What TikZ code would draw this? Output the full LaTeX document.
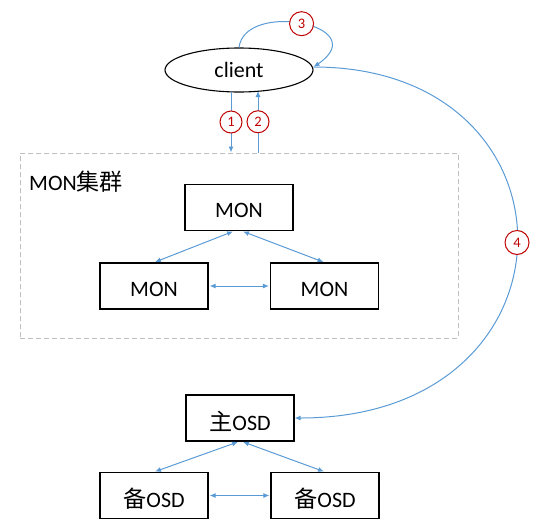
\documentclass[tikz,border=0pt]{standalone}
\usepackage{fontspec}
\setmainfont{Carlito}
\newfontfamily\cjk{Noto Sans CJK SC}[Scale=1.05]
\usetikzlibrary{arrows.meta,shapes.geometric,calc}
\definecolor{lineblue}{HTML}{5B9BD5}
\definecolor{numred}{HTML}{C00000}
\definecolor{dashgray}{HTML}{BFBFBF}
\newcommand{\lowtext}[1]{\raisebox{-3pt}[\height][\depth]{#1}}
\begin{document}
\begin{tikzpicture}[x=1pt,y=-1pt,
  txt/.style={font=\fontsize{22}{24}\selectfont},
  box/.style={draw=black, line width=1.1pt, minimum width=108pt, minimum height=46pt, inner sep=0pt, txt},
  link/.style={draw=lineblue, line width=1pt, {Latex[length=6pt,width=5pt]}-{Latex[length=6pt,width=5pt]}, shorten >=1pt, shorten <=1pt},
  oneway/.style={draw=lineblue, line width=1pt, -{Latex[length=6pt,width=5pt]}},
  num/.style={circle, draw=numred, line width=1pt, fill=white, text=numred, minimum size=22pt, inner sep=0pt, font=\fontsize{14.5}{15}\selectfont},
  bignum/.style={num, minimum size=24pt}]
\useasboundingbox (0,0) rectangle (537,530);

% client
\node[ellipse, draw=black, line width=1.1pt, minimum width=148pt, minimum height=44pt, inner sep=0pt, txt] (client) at (239,70) {client};

% MON cluster
\node[draw=dashgray, line width=1pt, dash pattern=on 5pt off 3pt, minimum width=438pt, minimum height=185pt, inner sep=0pt] (cluster) at (239,245.5) {};
\node[anchor=west, txt, inner sep=0pt] (clabel) at (29,182) {MON{\cjk 集群}};

\node[box] (mtop) at (239,207.5) {\lowtext{MON}};
\node[box] (mleft) at (154,286) {\lowtext{MON}};
\node[box] (mright) at (324.5,286) {\lowtext{MON}};

\draw[link] ($(mtop.south)+(-5,0)$) -- (mleft.north);
\draw[link] ($(mtop.south)+(3,0)$) -- (mright.north);
\draw[link] (mleft.east) -- (mright.west);

% OSDs
\node[box] (osd) at (240,418) {\lowtext{{\cjk 主}OSD}};
\node[box] (osdl) at (154,495.5) {\lowtext{{\cjk 备}OSD}};
\node[box] (osdr) at (325,495.5) {\lowtext{{\cjk 备}OSD}};

\draw[link] ($(osd.south)+(-1,0)$) -- (osdl.north);
\draw[link] ($(osd.south)+(2,0)$) -- (osdr.north);
\draw[link] (osdl.east) -- (osdr.west);

% client <-> cluster
\coordinate (a1) at (231,91.5);
\coordinate (a2) at (258,91);
\draw[oneway] (a1) -- (a1 |- cluster.north) node[num, pos=0.5] {1};
\draw[oneway] (a2 |- cluster.north) -- (a2) node[num, pos=0.5] {2};

% loop 3
\coordinate (ce) at ($(client.east)+(0,-3)$);
\draw[oneway] (client.north) .. controls (245,0) and (375,25) .. (ce) node[bignum, pos=0.5] {3};

% curve 4
\draw[oneway] (ce) .. controls (588,67) and (588,418) .. (osd.east) node[bignum, pos=0.5] {4};
\end{tikzpicture}
\end{document}
